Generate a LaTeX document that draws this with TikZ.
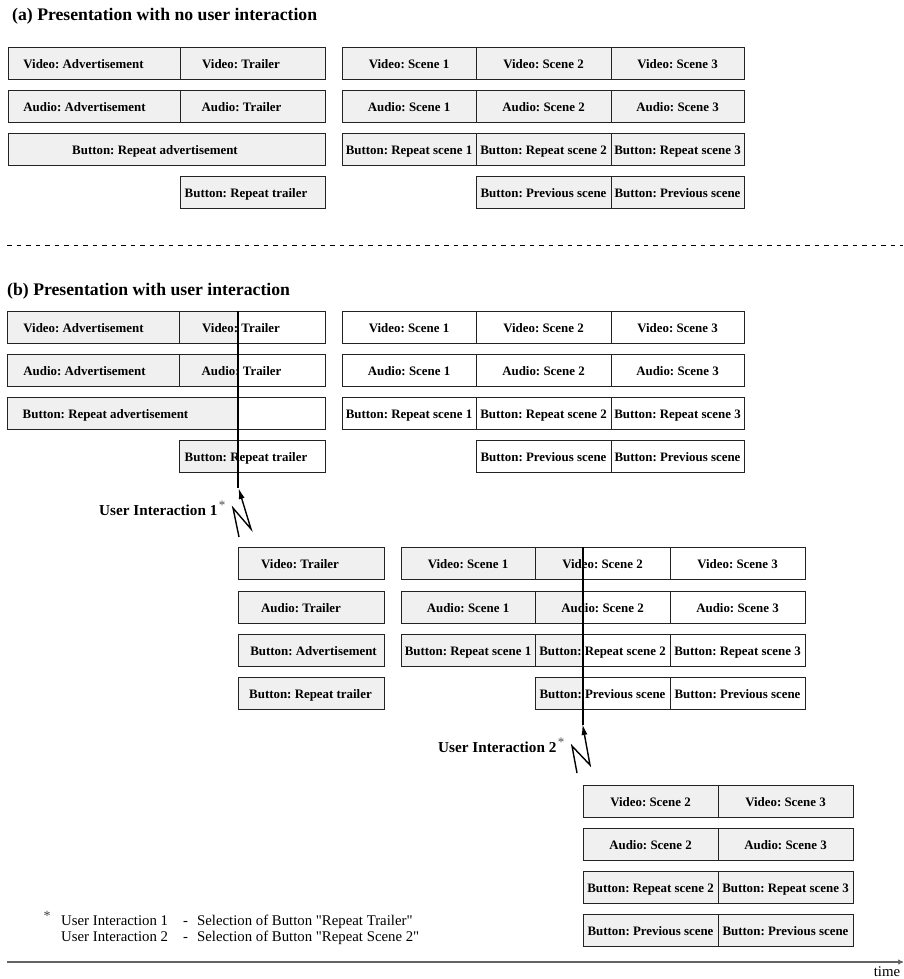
\documentclass[tikz,border=0pt]{standalone}
\usepackage{fontspec}
\setmainfont{Liberation Serif}[Ligatures=TeXOff]
\usetikzlibrary{arrows.meta}
\definecolor{boxgray}{RGB}{240,240,240}
\definecolor{edge}{RGB}{35,35,35}
\definecolor{axisgray}{RGB}{100,100,100}
\tikzset{
  cellb/.style={draw=edge, line width=0.9pt},
  lbl/.style={anchor=base, inner sep=0pt, font=\frenchspacing\fontsize{12.9}{14}\selectfont\bfseries},
  title/.style={anchor=base west, inner sep=0pt, font=\frenchspacing\fontsize{17.7}{20}\selectfont\bfseries},
  ilabel/.style={anchor=base west, inner sep=0pt, font=\fontsize{15.2}{17}\selectfont\bfseries},
  astk/.style={anchor=base, inner sep=0pt, text=black!70, font=\fontsize{13}{14}\selectfont},
  fn/.style={anchor=base west, inner sep=0pt, font=\frenchspacing\fontsize{14.8}{16}\selectfont},
  iline/.style={draw=black, line width=1.6pt},
  zz/.style={draw=black, line width=1.4pt, -{Latex[length=11pt,width=6pt]}},
  sepline/.style={draw=black, line width=0.9pt, dash pattern=on 4.5pt off 5pt},
  axisline/.style={draw=axisgray, line width=1.3pt, -{To[length=5pt,width=5pt]}},
}
% \cell{name}{fill}{x1}{x2}{ytop}{text x}{text}
\newcommand\cell[7]{\filldraw[cellb,fill=#2] (#3,#5) rectangle (#4,#5+32);
  \node[lbl] (#1) at (#6,#5+21.5) {#7};}
% \scell{name}{x1}{x2}{ytop}{text x}{text}{split x}: gray left of split, white right
\newcommand\scell[7]{\fill[white] (#2,#4) rectangle (#3,#4+32);
  \fill[boxgray] (#2,#4) rectangle (#7,#4+32);
  \draw[cellb] (#2,#4) rectangle (#3,#4+32);
  \node[lbl] (#1) at (#5,#4+21.5) {#6};}
\begin{document}
\begin{tikzpicture}[x=1pt,y=-1pt]
\useasboundingbox (0,0) rectangle (903,979);

% ---------- (a) ----------
\node[title] (ta) at (12,20.5) {(a) Presentation with no user interaction};

\cell{a11}{boxgray}{8}{180.5}{47}{83.5}{Video: Advertisement}
\cell{a12}{boxgray}{180.5}{325}{47}{241}{Video: Trailer}
\cell{a13}{boxgray}{342}{476}{47}{409}{Video: Scene 1}
\cell{a14}{boxgray}{476}{611}{47}{543.5}{Video: Scene 2}
\cell{a15}{boxgray}{611}{744}{47}{677.5}{Video: Scene 3}

\cell{a21}{boxgray}{8}{180.5}{90}{84.5}{Audio: Advertisement}
\cell{a22}{boxgray}{180.5}{325}{90}{241.5}{Audio: Trailer}
\cell{a23}{boxgray}{342}{476}{90}{409}{Audio: Scene 1}
\cell{a24}{boxgray}{476}{611}{90}{543.5}{Audio: Scene 2}
\cell{a25}{boxgray}{611}{744}{90}{677.5}{Audio: Scene 3}

\cell{a31}{boxgray}{8}{325}{133}{155}{Button: Repeat advertisement}
\cell{a33}{boxgray}{342}{476}{133}{409}{Button: Repeat scene 1}
\cell{a34}{boxgray}{476}{611}{133}{543.5}{Button: Repeat scene 2}
\cell{a35}{boxgray}{611}{744}{133}{677.5}{Button: Repeat scene 3}

\cell{a42}{boxgray}{180.5}{325}{176}{246}{Button: Repeat trailer}
\cell{a44}{boxgray}{476}{611}{176}{543.5}{Button: Previous scene}
\cell{a45}{boxgray}{611}{744}{176}{677.5}{Button: Previous scene}

% separator
\coordinate (sl) at (7,245);
\coordinate (sr) at (903,245);
\draw[sepline] (sl) -- (sr);

% ---------- (b) ----------
\node[title] (tb) at (7,295.5) {(b) Presentation with user interaction};

\cell{b11}{boxgray}{7}{179.5}{311}{83.5}{Video: Advertisement}
\scell{b12}{179.5}{325}{311}{241}{Video: Trailer}{238}
\cell{b13}{white}{342}{476}{311}{409}{Video: Scene 1}
\cell{b14}{white}{476}{611}{311}{543.5}{Video: Scene 2}
\cell{b15}{white}{611}{744}{311}{677.5}{Video: Scene 3}

\cell{b21}{boxgray}{7}{179.5}{354}{84.5}{Audio: Advertisement}
\scell{b22}{179.5}{325}{354}{241.5}{Audio: Trailer}{238}
\cell{b23}{white}{342}{476}{354}{409}{Audio: Scene 1}
\cell{b24}{white}{476}{611}{354}{543.5}{Audio: Scene 2}
\cell{b25}{white}{611}{744}{354}{677.5}{Audio: Scene 3}

\scell{b31}{7}{325}{397}{105.5}{Button: Repeat advertisement}{238}
\cell{b33}{white}{342}{476}{397}{409}{Button: Repeat scene 1}
\cell{b34}{white}{476}{611}{397}{543.5}{Button: Repeat scene 2}
\cell{b35}{white}{611}{744}{397}{677.5}{Button: Repeat scene 3}

\scell{b42}{179.5}{325}{440}{246}{Button: Repeat trailer}{238}
\cell{b44}{white}{476}{611}{440}{543.5}{Button: Previous scene}
\cell{b45}{white}{611}{744}{440}{677.5}{Button: Previous scene}

% interaction 1
\coordinate (v1t) at (238,311);
\coordinate (v1b) at (238,488);
\draw[iline] (v1t) -- (v1b);
\coordinate (z1a) at (239,537);
\coordinate (z1b) at (233,508);
\coordinate (z1c) at (251,529);
\coordinate (z1d) at (238.5,488);
\draw[zz] (z1a) -- (z1b) -- (z1c) -- (z1d);
\node[ilabel] (ui1) at (99,515.5) {User Interaction 1};
\node[astk] (ui1s) at (222,509) {*};

% group 2
\cell{c11}{boxgray}{238}{384}{547}{300}{Video: Trailer}
\cell{c12}{boxgray}{401}{535}{547}{468}{Video: Scene 1}
\scell{c13}{535}{670}{547}{602.5}{Video: Scene 2}{583}
\cell{c14}{white}{670}{805}{547}{737.5}{Video: Scene 3}

\cell{c21}{boxgray}{238}{384}{591}{301}{Audio: Trailer}
\cell{c22}{boxgray}{401}{535}{591}{468}{Audio: Scene 1}
\scell{c23}{535}{670}{591}{602.5}{Audio: Scene 2}{583}
\cell{c24}{white}{670}{805}{591}{737.5}{Audio: Scene 3}

\cell{c31}{boxgray}{238}{384}{634}{313.5}{Button: Advertisement}
\cell{c32}{boxgray}{401}{535}{634}{468}{Button: Repeat scene 1}
\scell{c33}{535}{670}{634}{602.5}{Button: Repeat scene 2}{583}
\cell{c34}{white}{670}{805}{634}{737.5}{Button: Repeat scene 3}

\cell{c41}{boxgray}{238}{384}{677}{310.5}{Button: Repeat trailer}
\scell{c43}{535}{670}{677}{602.5}{Button: Previous scene}{583}
\cell{c44}{white}{670}{805}{677}{737.5}{Button: Previous scene}

% interaction 2
\coordinate (v2t) at (583,547);
\coordinate (v2b) at (583,725);
\draw[iline] (v2t) -- (v2b);
\coordinate (z2a) at (577,773);
\coordinate (z2b) at (572,746);
\coordinate (z2c) at (590,765);
\coordinate (z2d) at (582.5,724);
\draw[zz] (z2a) -- (z2b) -- (z2c) -- (z2d);
\node[ilabel] (ui2) at (438,752) {User Interaction 2};
\node[astk] (ui2s) at (561,746) {*};

% group 3
\cell{d11}{boxgray}{583}{718}{785}{650.5}{Video: Scene 2}
\cell{d12}{boxgray}{718}{853}{785}{785.5}{Video: Scene 3}
\cell{d21}{boxgray}{583}{718}{828}{650.5}{Audio: Scene 2}
\cell{d22}{boxgray}{718}{853}{828}{785.5}{Audio: Scene 3}
\cell{d31}{boxgray}{583}{718}{871}{650.5}{Button: Repeat scene 2}
\cell{d32}{boxgray}{718}{853}{871}{785.5}{Button: Repeat scene 3}
\cell{d41}{boxgray}{583}{718}{914}{650.5}{Button: Previous scene}
\cell{d42}{boxgray}{718}{853}{914}{785.5}{Button: Previous scene}

% footnote
\node[anchor=base, inner sep=0pt, text=black!75, font=\fontsize{14}{15}\selectfont] (fs) at (47,920) {*};
\node[fn] (f1) at (61,925.5) {User Interaction 1};
\node[fn] (f1d) at (183,925.5) {-\hspace{9pt}Selection of Button "Repeat Trailer"};
\node[fn] (f2) at (61,941) {User Interaction 2};
\node[fn] (f2d) at (183,941) {-\hspace{9pt}Selection of Button "Repeat Scene 2"};

% time axis
\coordinate (axl) at (7,962);
\coordinate (axr) at (903,962);
\draw[axisline] (axl) -- (axr);
\node[anchor=base, inner sep=0pt, font=\fontsize{14.8}{16}\selectfont] (tm) at (887,976) {time};
\end{tikzpicture}
\end{document}
